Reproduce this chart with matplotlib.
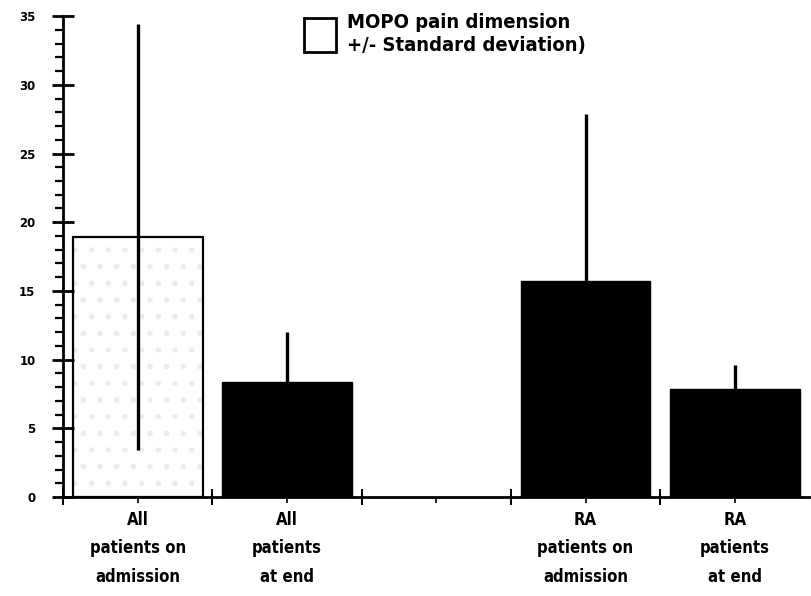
import numpy as np
import matplotlib
matplotlib.use('Agg')
import matplotlib.pyplot as plt
from matplotlib.ticker import MultipleLocator, FixedLocator
from matplotlib.patches import Patch

# ---- data ----
groups = ['All\npatients on\nadmission', 'All\npatients\nat end', '',
          'RA\npatients on\nadmission', 'RA\npatients\nat end']
means = [18.9, 8.4, np.nan, 15.7, 7.9]
sds = [15.5, 3.6, np.nan, 12.2, 1.7]
yticks = [0, 5, 10, 15, 20, 25, 30, 35]

plt.rcParams['font.family'] = ['DejaVu Sans']
plt.rcParams['font.stretch'] = 'condensed'
plt.rcParams['hatch.linewidth'] = 1.5

fig = plt.figure(figsize=(8.11, 5.96), dpi=100)
ax = fig.add_axes([0.078, 0.166, 0.92, 0.807])

x = np.arange(len(groups))
w = 0.87
# first bar: hollow with faint dots
ax.bar(x[0], means[0], w, color='white', hatch='.', edgecolor='#ececec', lw=0, zorder=1)
ax.bar(x[0], means[0], w, fill=False, edgecolor='black', lw=1.6, zorder=2)
# filled bars
for i in [1, 3, 4]:
    ax.bar(x[i], means[i], w, color='black', edgecolor='black', zorder=2)
for i in [0, 1, 3, 4]:
    ax.errorbar(x[i], means[i], yerr=sds[i], fmt='none', ecolor='black',
                elinewidth=2.4, capsize=0, zorder=3)

ax.set_xlim(-0.5, 4.5)
ax.set_ylim(0, 35)
for s in ['top', 'right']:
    ax.spines[s].set_visible(False)
ax.spines['left'].set_linewidth(2)
ax.spines['bottom'].set_linewidth(2)

ax.yaxis.set_major_locator(FixedLocator(yticks))
ax.yaxis.set_minor_locator(MultipleLocator(1))
ax.tick_params(axis='y', which='major', direction='inout', length=16, width=2,
               labelsize=8.5, pad=12)
ax.tick_params(axis='y', which='minor', direction='out', length=6, width=1.6)
for t in ax.get_yticklabels():
    t.set_fontweight('bold')
    t.set_fontstretch('expanded')

ax.xaxis.set_major_locator(FixedLocator([-0.5, 0.5, 1.5, 2.5, 3.5]))
ax.set_xticks(x, minor=True)
ax.set_xticklabels(groups, minor=True, fontsize=12, linespacing=1.75, fontweight='bold')
ax.tick_params(axis='x', which='major', direction='inout', length=12, width=1.4,
               labelbottom=False)
ax.tick_params(axis='x', which='minor', direction='out', length=4, width=1.2, pad=6)

leg = ax.legend(handles=[Patch(facecolor='white', edgecolor='black', lw=2)],
                labels=['MOPO pain dimension\n+/- Standard deviation)'],
                loc='upper left', bbox_to_anchor=(0.298, 1.045), frameon=False,
                fontsize=14.5, handlelength=1.6, handleheight=2.2, handletextpad=0.55)
for t in leg.get_texts():
    t.set_fontweight('bold')
    t.set_linespacing(1.3)

fig.savefig('out.png', dpi=100)
